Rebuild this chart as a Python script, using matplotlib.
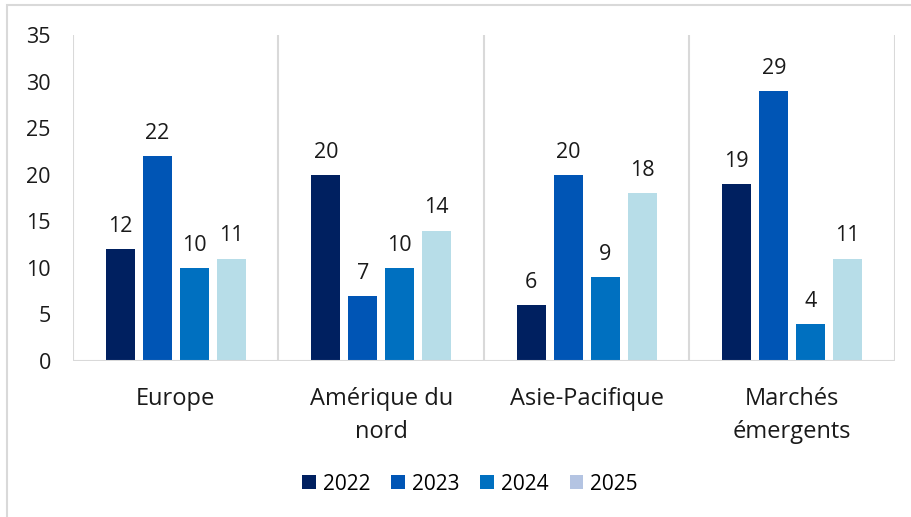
import numpy as np
import matplotlib.pyplot as plt
from matplotlib.patches import Rectangle, Patch

# Data
categories = ["Europe", "Amérique du\nnord", "Asie-Pacifique", "Marchés\némergents"]
years = ["2022", "2023", "2024", "2025"]
v2022 = [12, 20, 6, 19]
v2023 = [22, 7, 20, 29]
v2024 = [10, 10, 9, 4]
v2025 = [11, 14, 18, 11]

bar_colors = ["#002060", "#0055B5", "#0070C0", "#B7DDE8"]
legend_colors = ["#002060", "#0055B5", "#0070C0", "#B4C4E2"]
grid_col = "#D9D9D9"
txt_col = "#1a1a1a"

plt.rcParams['font.family'] = ['Open Sans', 'DejaVu Sans']

fig = plt.figure(figsize=(9.12, 5.17), dpi=100)
W, H = 912, 517

# outer light border (only top/left visible in reference)
fig.patches.append(Rectangle((7 / W, -0.01), 1.02, 1 - 5 / H + 0.01,
                             transform=fig.transFigure, fill=False,
                             edgecolor=grid_col, linewidth=1.5))

ax = fig.add_axes([73 / W, 1 - 361 / H, (895 - 73) / W, (361 - 35) / H])

series = [v2022, v2023, v2024, v2025]
x = np.arange(len(categories))
step = 0.18
width = 0.142
offsets = (np.arange(4) - 1.5) * step

for i, vals in enumerate(series):
    bars = ax.bar(x + offsets[i], vals, width, color=bar_colors[i], zorder=3)
    for b, v in zip(bars, vals):
        ax.text(b.get_x() + b.get_width() / 2, v + 1.3, str(v),
                ha='center', va='bottom', fontsize=15.5, color=txt_col)

ax.set_xlim(-0.5, len(categories) - 0.5)
ax.set_ylim(0, 35)
ax.set_yticks(range(0, 36, 5))
ax.tick_params(axis='y', length=0, pad=16, labelsize=15.5, labelcolor=txt_col)
ax.set_xticks(x)
ax.set_xticklabels(categories, fontsize=17, color=txt_col, linespacing=1.5)
ax.tick_params(axis='x', length=0, pad=19)

# category separators
for xb in np.arange(-0.5, len(categories), 1.0):
    ax.axvline(xb, color=grid_col, linewidth=1.5, zorder=1)

for s in ax.spines.values():
    s.set_visible(False)
ax.axhline(0, color=grid_col, linewidth=1.5, zorder=4)

handles = [Patch(facecolor=c, label=y) for c, y in zip(legend_colors, years)]
fig.legend(handles=handles, loc='center', bbox_to_anchor=(470 / W, 1 - 484 / H),
           ncol=4, frameon=False, fontsize=15, handlelength=0.65, handleheight=0.65,
           handletextpad=0.35, columnspacing=1.0)

fig.savefig("out.png", dpi=100)
